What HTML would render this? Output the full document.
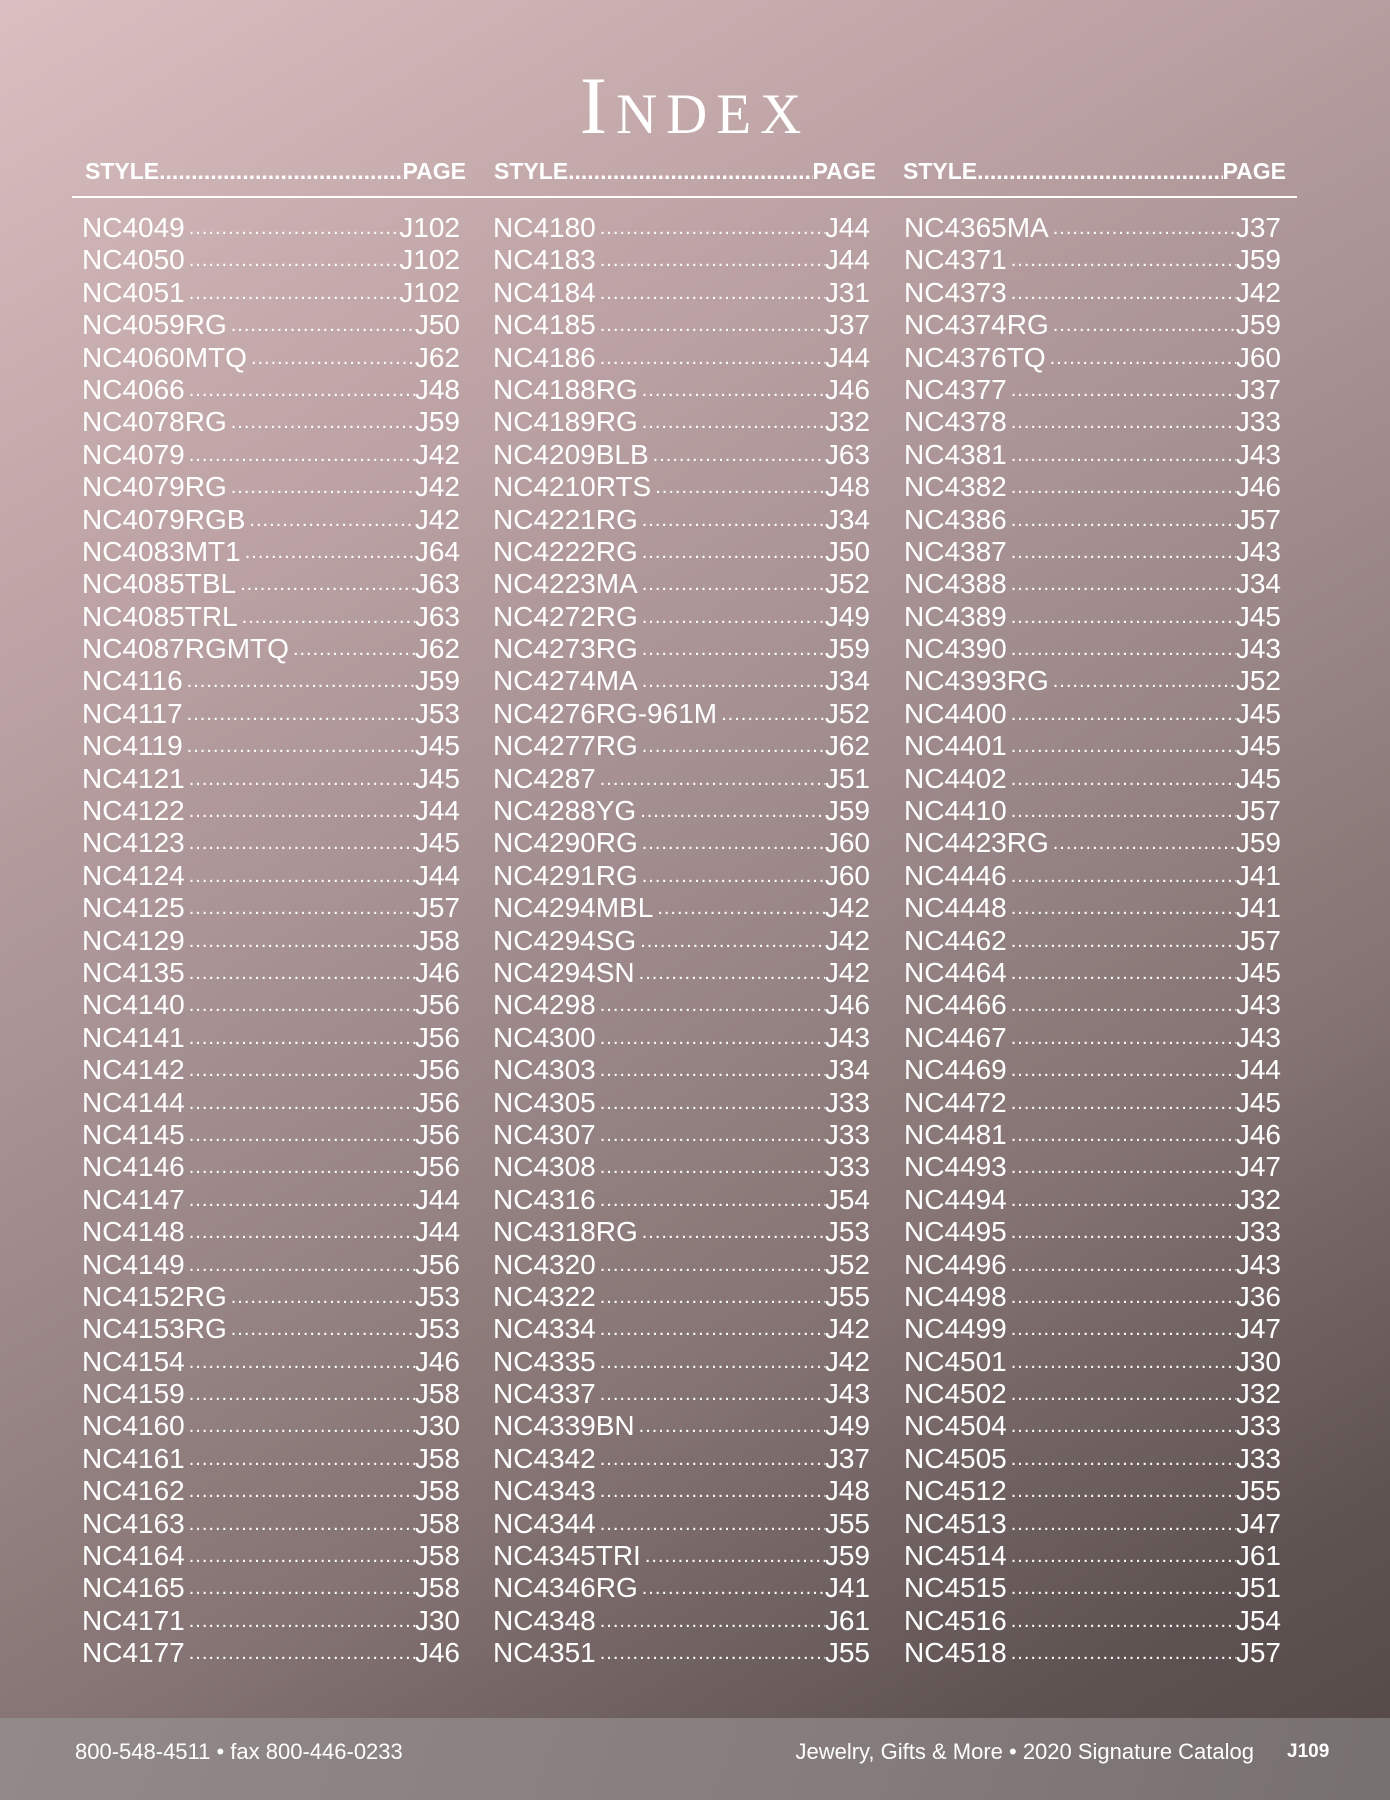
<!DOCTYPE html>
<html><head><meta charset="utf-8">
<style>
html,body{margin:0;padding:0}
body{width:1390px;height:1800px;position:relative;overflow:hidden;font-family:"Liberation Sans",sans-serif;color:#fff;
background:linear-gradient(150deg,#d9bfc0 0%,#c1a6a8 22%,#a48f90 45%,#857473 68%,#5f5352 88%,#544847 100%);}
#title{position:absolute;left:0;width:1390px;top:66px;text-align:center;font-family:"Liberation Serif",serif;font-size:82px;font-variant:small-caps;letter-spacing:9px;line-height:80px;font-weight:normal}
.hdr{position:absolute;top:156px;height:30px;font-size:23px;font-weight:bold;display:flex;align-items:flex-end;overflow:hidden;line-height:30px}
.hdr .d{flex:1;overflow:hidden;white-space:nowrap}
#rule{position:absolute;left:72px;top:196px;width:1225px;height:2px;background:#fff}
.col{position:absolute;top:212px}
.row{display:flex;height:32.4px;line-height:32.4px;font-size:28px;white-space:nowrap;overflow:hidden}
.row .dots{flex:1;overflow:hidden;font-size:20px;padding:0 8px 0 4px;letter-spacing:1px}
#footer{position:absolute;left:0;top:1718px;width:1390px;height:82px;background:linear-gradient(110deg,#928a89,#857c7b 60%,#76706e)}
.ft{position:absolute;top:1738px;font-size:22px;line-height:28px}
</style></head><body>
<div id="title">Index</div>
<div class="hdr" style="left:85px;width:381px"><span>STYLE</span><span class="d">..................................................................</span><span>PAGE</span></div>
<div class="hdr" style="left:494px;width:382px"><span>STYLE</span><span class="d">..................................................................</span><span>PAGE</span></div>
<div class="hdr" style="left:903px;width:383px"><span>STYLE</span><span class="d">..................................................................</span><span>PAGE</span></div>
<div id="rule"></div>
<div class="col" id="c1" style="left:82px;width:378px"></div>
<div class="col" id="c2" style="left:493px;width:377px"></div>
<div class="col" id="c3" style="left:904px;width:377px"></div>
<div id="footer"></div>
<div class="ft" style="left:75px">800-548-4511 • fax 800-446-0233</div>
<div class="ft" style="right:136px">Jewelry, Gifts &amp; More • 2020 Signature Catalog</div>
<div class="ft" style="left:1287px;font-weight:bold;font-size:19px">J109</div>
<script>
const styles1=["NC4049","NC4050","NC4051","NC4059RG","NC4060MTQ","NC4066","NC4078RG","NC4079","NC4079RG","NC4079RGB","NC4083MT1","NC4085TBL","NC4085TRL","NC4087RGMTQ","NC4116","NC4117","NC4119","NC4121","NC4122","NC4123","NC4124","NC4125","NC4129","NC4135","NC4140","NC4141","NC4142","NC4144","NC4145","NC4146","NC4147","NC4148","NC4149","NC4152RG","NC4153RG","NC4154","NC4159","NC4160","NC4161","NC4162","NC4163","NC4164","NC4165","NC4171","NC4177"];
const pages1=["J102","J102","J102","J50","J62","J48","J59","J42","J42","J42","J64","J63","J63","J62","J59","J53","J45","J45","J44","J45","J44","J57","J58","J46","J56","J56","J56","J56","J56","J56","J44","J44","J56","J53","J53","J46","J58","J30","J58","J58","J58","J58","J58","J30","J46"];
const styles2=["NC4180","NC4183","NC4184","NC4185","NC4186","NC4188RG","NC4189RG","NC4209BLB","NC4210RTS","NC4221RG","NC4222RG","NC4223MA","NC4272RG","NC4273RG","NC4274MA","NC4276RG-961M","NC4277RG","NC4287","NC4288YG","NC4290RG","NC4291RG","NC4294MBL","NC4294SG","NC4294SN","NC4298","NC4300","NC4303","NC4305","NC4307","NC4308","NC4316","NC4318RG","NC4320","NC4322","NC4334","NC4335","NC4337","NC4339BN","NC4342","NC4343","NC4344","NC4345TRI","NC4346RG","NC4348","NC4351"];
const pages2=["J44","J44","J31","J37","J44","J46","J32","J63","J48","J34","J50","J52","J49","J59","J34","J52","J62","J51","J59","J60","J60","J42","J42","J42","J46","J43","J34","J33","J33","J33","J54","J53","J52","J55","J42","J42","J43","J49","J37","J48","J55","J59","J41","J61","J55"];
const styles3=["NC4365MA","NC4371","NC4373","NC4374RG","NC4376TQ","NC4377","NC4378","NC4381","NC4382","NC4386","NC4387","NC4388","NC4389","NC4390","NC4393RG","NC4400","NC4401","NC4402","NC4410","NC4423RG","NC4446","NC4448","NC4462","NC4464","NC4466","NC4467","NC4469","NC4472","NC4481","NC4493","NC4494","NC4495","NC4496","NC4498","NC4499","NC4501","NC4502","NC4504","NC4505","NC4512","NC4513","NC4514","NC4515","NC4516","NC4518"];
const pages3=["J37","J59","J42","J59","J60","J37","J33","J43","J46","J57","J43","J34","J45","J43","J52","J45","J45","J45","J57","J59","J41","J41","J57","J45","J43","J43","J44","J45","J46","J47","J32","J33","J43","J36","J47","J30","J32","J33","J33","J55","J47","J61","J51","J54","J57"];
function fill(id,s,p){
  const c=document.getElementById(id);
  for(let i=0;i<s.length;i++){
    const r=document.createElement('div');r.className='row';
    
    
    r.innerHTML='<span>'+s[i]+'</span><span class="dots">'+'.'.repeat(80)+'</span><span>'+p[i]+'</span>';
    c.appendChild(r);
  }
}
fill('c1',styles1,pages1);fill('c2',styles2,pages2);fill('c3',styles3,pages3);
</script>
</body></html>
